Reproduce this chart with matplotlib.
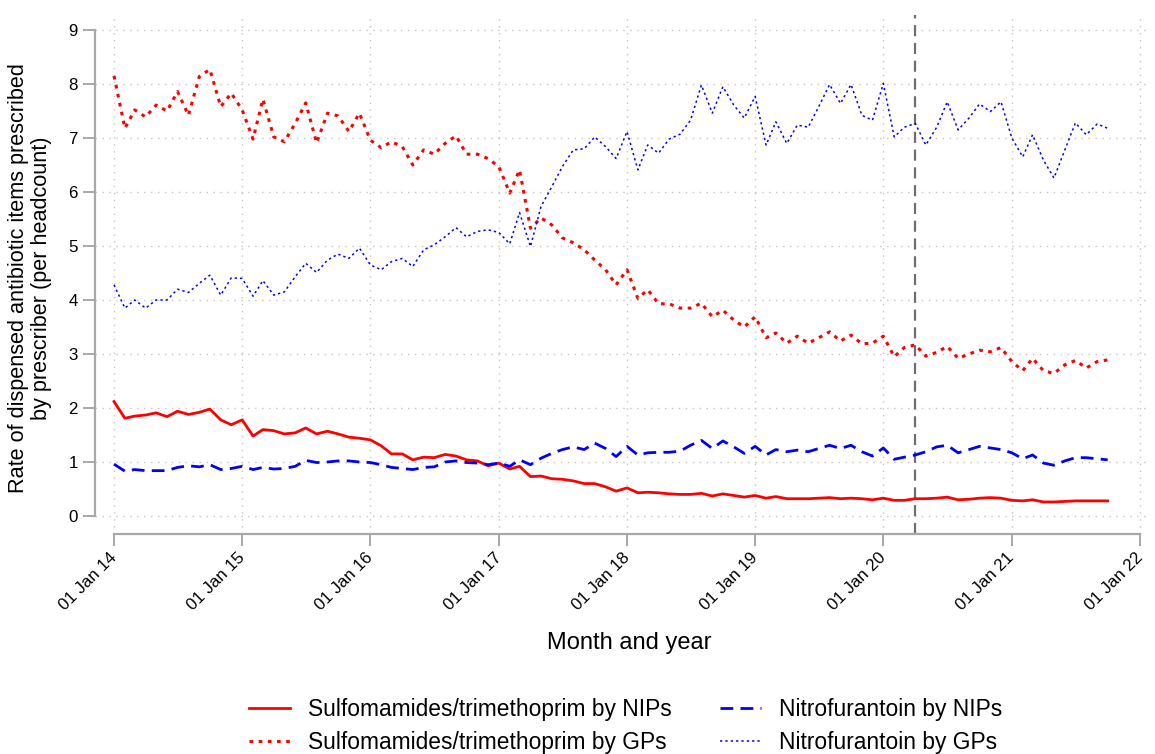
import matplotlib
matplotlib.use("Agg")
import matplotlib.pyplot as plt
import matplotlib.dates as mdates
import pandas as pd
import numpy as np

plt.rcParams['font.family'] = ['Liberation Sans', 'DejaVu Sans']

# ---------------- data ----------------
start_month = "2014-01-01"
n_months = 94
months = pd.date_range(start_month, periods=n_months, freq="MS")

sulfa_nip = [2.12, 1.81, 1.85, 1.87, 1.91, 1.84, 1.94, 1.88, 1.92, 1.98,
             1.78, 1.69, 1.78, 1.48, 1.60, 1.58, 1.52, 1.54, 1.63, 1.52,
             1.57, 1.52, 1.46, 1.44, 1.41, 1.30, 1.15, 1.15, 1.04, 1.09,
             1.08, 1.14, 1.11, 1.04, 1.02, 0.93, 0.98, 0.87, 0.92, 0.73,
             0.74, 0.69, 0.68, 0.65, 0.60, 0.60, 0.54, 0.46, 0.52, 0.43,
             0.44, 0.43, 0.41, 0.40, 0.40, 0.42, 0.37, 0.41, 0.38, 0.35,
             0.38, 0.33, 0.36, 0.32, 0.32, 0.32, 0.33, 0.34, 0.32, 0.33,
             0.32, 0.30, 0.33, 0.29, 0.29, 0.32, 0.32, 0.33, 0.35, 0.30,
             0.31, 0.33, 0.34, 0.33, 0.29, 0.28, 0.30, 0.26, 0.26, 0.27,
             0.28, 0.28, 0.28, 0.28]

sulfa_gp = [8.15, 7.18, 7.52, 7.39, 7.61, 7.50, 7.86, 7.42, 8.14, 8.27,
            7.58, 7.83, 7.52, 6.98, 7.72, 7.02, 6.93, 7.27, 7.65, 6.91,
            7.46, 7.41, 7.12, 7.46, 6.96, 6.82, 6.93, 6.84, 6.50, 6.78,
            6.70, 6.90, 7.04, 6.70, 6.70, 6.62, 6.47, 5.98, 6.41, 5.33,
            5.52, 5.39, 5.15, 5.06, 4.93, 4.74, 4.56, 4.28, 4.56, 4.03,
            4.19, 3.93, 3.93, 3.85, 3.85, 3.94, 3.69, 3.81, 3.63, 3.50,
            3.69, 3.30, 3.39, 3.20, 3.33, 3.20, 3.30, 3.41, 3.24, 3.35,
            3.19, 3.20, 3.33, 2.95, 3.12, 3.17, 2.96, 3.03, 3.14, 2.92,
            3.00, 3.07, 3.04, 3.12, 2.86, 2.69, 2.92, 2.69, 2.64, 2.80,
            2.88, 2.74, 2.86, 2.89]

nitro_nip = [0.96, 0.83, 0.86, 0.84, 0.84, 0.84, 0.90, 0.93, 0.91, 0.95,
             0.86, 0.88, 0.92, 0.86, 0.90, 0.87, 0.88, 0.92, 1.03, 0.99,
             1.00, 1.02, 1.02, 1.00, 0.99, 0.95, 0.90, 0.88, 0.86, 0.90,
             0.91, 1.00, 1.02, 0.99, 0.98, 0.95, 0.98, 0.92, 1.04, 0.95,
             1.07, 1.16, 1.23, 1.28, 1.23, 1.35, 1.25, 1.10, 1.29, 1.13,
             1.17, 1.18, 1.18, 1.20, 1.31, 1.40, 1.25, 1.39, 1.28, 1.16,
             1.29, 1.13, 1.23, 1.19, 1.22, 1.19, 1.25, 1.31, 1.25, 1.31,
             1.19, 1.11, 1.26, 1.05, 1.09, 1.13, 1.19, 1.28, 1.31, 1.17,
             1.23, 1.29, 1.26, 1.23, 1.17, 1.06, 1.13, 0.98, 0.94, 1.02,
             1.08, 1.08, 1.06, 1.04]

nitro_gp = [4.28, 3.85, 4.00, 3.85, 4.00, 4.00, 4.20, 4.14, 4.31, 4.46,
            4.09, 4.41, 4.40, 4.07, 4.36, 4.09, 4.15, 4.43, 4.68, 4.51,
            4.74, 4.85, 4.77, 4.96, 4.65, 4.56, 4.71, 4.77, 4.62, 4.93,
            5.02, 5.17, 5.34, 5.17, 5.27, 5.30, 5.25, 5.04, 5.62, 4.99,
            5.73, 6.10, 6.47, 6.78, 6.80, 7.02, 6.84, 6.62, 7.12, 6.41,
            6.87, 6.72, 6.98, 7.07, 7.33, 7.98, 7.46, 7.95, 7.61, 7.37,
            7.77, 6.87, 7.30, 6.90, 7.24, 7.20, 7.58, 7.99, 7.64, 7.99,
            7.42, 7.33, 8.01, 7.02, 7.20, 7.27, 6.87, 7.20, 7.67, 7.15,
            7.37, 7.63, 7.49, 7.67, 7.00, 6.65, 7.06, 6.59, 6.26, 6.78,
            7.28, 7.06, 7.26, 7.18]

labels = ["Sulfomamides/trimethoprim by NIPs",
          "Sulfomamides/trimethoprim by GPs",
          "Nitrofurantoin by NIPs",
          "Nitrofurantoin by GPs"]

event_date = "2020-04-01"
year_ticks = pd.date_range("2014-01-01", "2022-01-01", freq="YS")
y_ticks = list(range(0, 10))

# ---------------- figure ----------------
W, H = 1155, 754
fig = plt.figure(figsize=(W / 100, H / 100), dpi=100)
ax_left, ax_right, ax_top, ax_bottom = 95, 1150, 15, 534
ax = fig.add_axes([ax_left / W, 1 - ax_bottom / H,
                   (ax_right - ax_left) / W, (ax_bottom - ax_top) / H])

px_per_day = (1140 - 114) / (8 * 365.25)
x0 = mdates.date2num(pd.Timestamp("2014-01-01")) - (114 - ax_left) / px_per_day
x1 = mdates.date2num(pd.Timestamp("2022-01-01")) + (ax_right - 1140) / px_per_day
ax.set_xlim(x0, x1)
px_per_unit = 54.0
ax.set_ylim(-(ax_bottom - 516) / px_per_unit, 9 + (30 - ax_top) / px_per_unit)

red = "#ff0000"
blue = "#0000ff"
l1, = ax.plot(months, sulfa_nip, color=red, lw=2.0, ls="-", label=labels[0])
l2, = ax.plot(months, sulfa_gp, color=red, lw=2.2, ls=(0, (1.2, 1.8)), label=labels[1])
l3, = ax.plot(months, nitro_nip, color=blue, lw=2.0, ls=(0, (4.6, 2.6)), label=labels[2])
l4, = ax.plot(months, nitro_gp, color=blue, lw=1.1, ls=(0, (1.5, 2.0)), label=labels[3])

ax.axvline(pd.Timestamp(event_date), color="#6e6e6e", lw=1.6, ls=(0, (5, 3)), zorder=1)

# grid
ax.set_xticks(year_ticks)
ax.set_yticks(y_ticks)
ax.xaxis.set_major_formatter(mdates.DateFormatter("%d %b %y"))
ax.grid(True, color="#c4c4c4", lw=1.0, ls=(0, (1, 4)), zorder=0)
ax.set_axisbelow(True)

# spines
for s in ["top", "right"]:
    ax.spines[s].set_visible(False)
spine_col = "#a8a8a8"
ax.spines["left"].set_color(spine_col)
ax.spines["bottom"].set_color(spine_col)
ax.spines["left"].set_linewidth(1.6)
ax.spines["bottom"].set_linewidth(1.6)
ax.spines["left"].set_bounds(0, 9)
ax.spines["bottom"].set_bounds(mdates.date2num(year_ticks[0]), mdates.date2num(year_ticks[-1]))

ax.tick_params(axis="both", colors=spine_col, labelcolor="black", length=8.3,
               width=1.4, labelsize=12.2)
ax.tick_params(axis="y", pad=4)
ax.tick_params(axis="x", pad=7)
for lab in ax.get_xticklabels():
    lab.set_rotation(45)
    lab.set_ha("right")
    lab.set_va("center")
    lab.set_rotation_mode("anchor")

fig.text(629 / W, 1 - 643 / H, "Month and year", ha="center", va="center", fontsize=17)
fig.text(30 / W, 1 - 278.5 / H,
         "Rate of dispensed antibiotic items prescribed\nby prescriber (per headcount)",
         ha="center", va="center", rotation=90, fontsize=15.6, linespacing=1.1)

fig.legend(handles=[l1, l2, l3, l4], loc="center", ncol=2,
           bbox_to_anchor=(625.5 / W, 1 - 726 / H), frameon=False,
           fontsize=16.4, handlelength=1.8, handletextpad=0.79,
           columnspacing=2.1, labelspacing=0.45)

fig.savefig("out.png", dpi=100)
